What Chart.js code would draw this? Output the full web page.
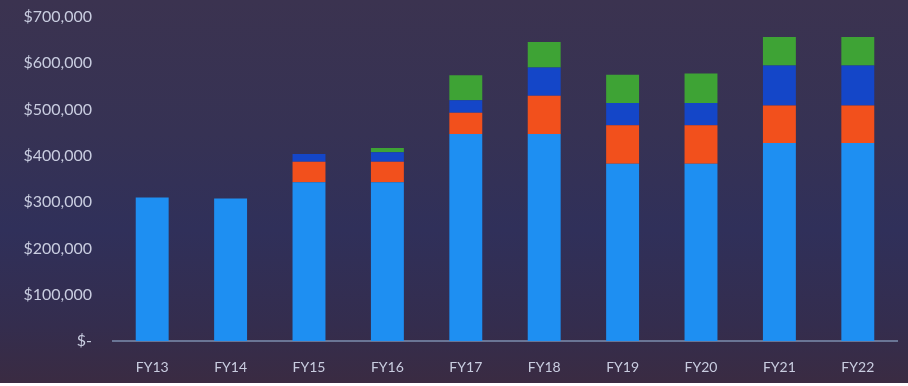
<!DOCTYPE html>
<html>
<head>
<meta charset="utf-8">
<script src="https://cdn.jsdelivr.net/npm/chart.js@4"></script>
<style>
  html, body {
    margin: 0;
    padding: 0;
  }
  body {
    width: 908px;
    height: 386px;
    background: #ffffff;
    overflow: hidden;
  }
  .chart-wrap {
    position: relative;
    width: 908px;
    height: 383px;
    background: linear-gradient(180deg, #3b3350 0%, #363254 35%, #30305a 60%, #342d4e 85%, #3a2b42 100%);
  }
</style>
</head>
<body>
<div class="chart-wrap">
  <canvas id="fundingChart" width="908" height="383"></canvas>
</div>
<script>
// Data
var categories = ["FY13", "FY14", "FY15", "FY16", "FY17", "FY18", "FY19", "FY20", "FY21", "FY22"];
var baseValues = [310000, 308000, 343000, 343000, 447000, 447000, 383000, 383000, 428000, 428000];
var orangeValues = [0, 0, 44000, 44000, 46000, 83000, 83000, 83000, 81000, 81000];
var navyValues = [0, 0, 17000, 21000, 27000, 61000, 48000, 48000, 86000, 86000];
var greenValues = [0, 0, 0, 9000, 54000, 55000, 61000, 64000, 62000, 62000];
var yTicks = [0, 100000, 200000, 300000, 400000, 500000, 600000, 700000];

// Stacked bar chart
let fundingCanvas = document.getElementById("fundingChart");
if (fundingCanvas) {
  var ctx = fundingCanvas.getContext("2d");
  var barOpts = {
    barPercentage: 0.42,
    categoryPercentage: 1,
    borderWidth: 0,
  };
  var data = {
    labels: categories,
    datasets: [
      Object.assign({ label: "Base", data: baseValues, backgroundColor: "#1e8ff2" }, barOpts),
      Object.assign({ label: "Orange", data: orangeValues, backgroundColor: "#f2501c" }, barOpts),
      Object.assign({ label: "Navy", data: navyValues, backgroundColor: "#1446c8" }, barOpts),
      Object.assign({ label: "Green", data: greenValues, backgroundColor: "#3ea335" }, barOpts),
    ],
  };
  var options = {
    responsive: false,
    animation: false,
    layout: {
      padding: { top: 17, right: 11, bottom: 0, left: 0 },
    },
    plugins: {
      legend: { display: false },
      tooltip: { enabled: false },
    },
    scales: {
      x: {
        stacked: true,
        grid: { display: false, drawTicks: false },
        border: { display: true, color: "#6a7595", width: 2 },
        ticks: {
          color: "#c9cde0",
          padding: 18,
          font: { size: 14, family: "Lato, sans-serif" },
        },
        afterFit: function (scale) {
          scale.height = 42;
        },
      },
      y: {
        stacked: true,
        min: 0,
        max: 700000,
        afterBuildTicks: function (scale) {
          scale.ticks = yTicks.map(function (v) {
            return { value: v };
          });
        },
        grid: { display: false, drawTicks: false },
        border: { display: false },
        ticks: {
          color: "#c9cde0",
          padding: 21,
          font: { size: 16, family: "Lato, sans-serif" },
          callback: function (value) {
            if (value === 0) return "$-";
            return "$" + value.toLocaleString("en-US");
          },
        },
        afterFit: function (scale) {
          scale.width = 113;
          // let the top label sit inside the layout padding
          scale.paddingTop = 0;
          scale.paddingBottom = 0;
        },
      },
    },
  };
  var fundingChart = new Chart(ctx, {
    type: "bar",
    data: data,
    options: options,
  });
}
</script>
</body>
</html>
